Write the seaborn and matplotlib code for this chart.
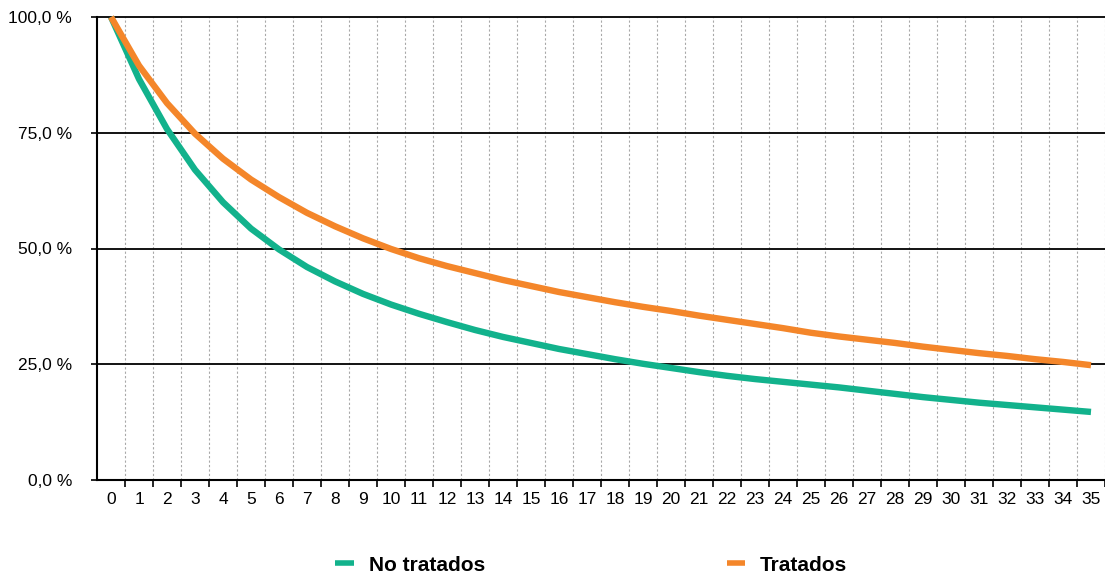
import matplotlib
matplotlib.use("Agg")
import matplotlib.pyplot as plt
import seaborn as sns
import pandas as pd
from matplotlib.ticker import FixedLocator, FuncFormatter

# Datos
meses = list(range(36))
no_tratados = [100.0, 86.6, 75.8, 67.0, 60.0, 54.3, 49.8, 46.0, 42.9, 40.2,
               37.9, 35.9, 34.1, 32.4, 30.9, 29.6, 28.3, 27.2, 26.1, 25.1,
               24.2, 23.3, 22.5, 21.8, 21.2, 20.6, 20.0, 19.3, 18.6, 17.9,
               17.3, 16.7, 16.2, 15.7, 15.2, 14.7]
tratados = [100.0, 89.5, 81.4, 74.8, 69.4, 64.9, 61.1, 57.7, 54.8, 52.2,
            49.9, 47.9, 46.2, 44.7, 43.2, 41.9, 40.6, 39.5, 38.4, 37.4,
            36.5, 35.5, 34.6, 33.7, 32.8, 31.8, 31.0, 30.3, 29.6, 28.8,
            28.1, 27.4, 26.8, 26.1, 25.5, 24.8]
grupos = ["No tratados", "Tratados"]
colores = {"No tratados": "#12B28C", "Tratados": "#F4862A"}

df = pd.DataFrame({
    "mes": meses * 2,
    "valor": no_tratados + tratados,
    "grupo": [grupos[0]] * len(meses) + [grupos[1]] * len(meses),
})

sns.set_style("white")
plt.rcParams["font.family"] = ["Liberation Sans", "DejaVu Sans"]
plt.rcParams["text.color"] = "black"
plt.rcParams["xtick.color"] = "black"
plt.rcParams["ytick.color"] = "black"

fig = plt.figure(figsize=(11.05, 5.78), dpi=100)
ax = fig.add_axes([97 / 1105, 1 - 480 / 578, 1 - 97 / 1105, (480 - 17) / 578])

# rejilla horizontal
for y in [25, 50, 75, 100]:
    ax.axhline(y, color="black", lw=1.3, zorder=1, clip_on=False)

sns.lineplot(data=df, x="mes", y="valor", hue="grupo", palette=colores,
             lw=4.6, ax=ax, legend=False, zorder=3)
for ln in ax.lines[4:]:
    ln.set_clip_on(False)
    ln.set_solid_capstyle("butt")

ax.set_xlim(-0.5, 35.5)
ax.set_ylim(0, 100)
ax.set_xlabel("")
ax.set_ylabel("")

ax.xaxis.set_major_locator(FixedLocator(meses))
ax.xaxis.set_minor_locator(FixedLocator([m + 0.5 for m in meses]))
ax.tick_params(axis="x", which="major", length=0, pad=9, labelsize=12.5,
               labelcolor="black")
ax.tick_params(axis="x", which="minor", length=5, width=1.2, color="black",
               direction="out", bottom=True)
ax.grid(axis="x", which="minor", color="#A8A8A8", linestyle=(0, (2, 2)), lw=0.8)

ax.set_yticks([0, 25, 50, 75, 100])
ax.yaxis.set_major_formatter(FuncFormatter(lambda v, p: f"{v:.1f} %".replace(".", ",")))
ax.tick_params(axis="y", length=4, width=1.2, color="black", direction="out",
               left=True, pad=14, labelsize=12.5, labelcolor="black")

for s in ["top", "right"]:
    ax.spines[s].set_visible(False)
for s in ["left", "bottom"]:
    ax.spines[s].set_color("black")
    ax.spines[s].set_linewidth(1.5)

handles = [plt.Line2D([], [], color=colores[g], lw=4, solid_capstyle="butt")
           for g in grupos]
fig.legend(handles, grupos, loc="center", bbox_to_anchor=(0.535, 0.022),
           ncol=2, frameon=False, prop={"weight": "bold", "size": 15},
           handlelength=0.9, handletextpad=0.7, columnspacing=11.6)

fig.savefig("out.png", dpi=100)
